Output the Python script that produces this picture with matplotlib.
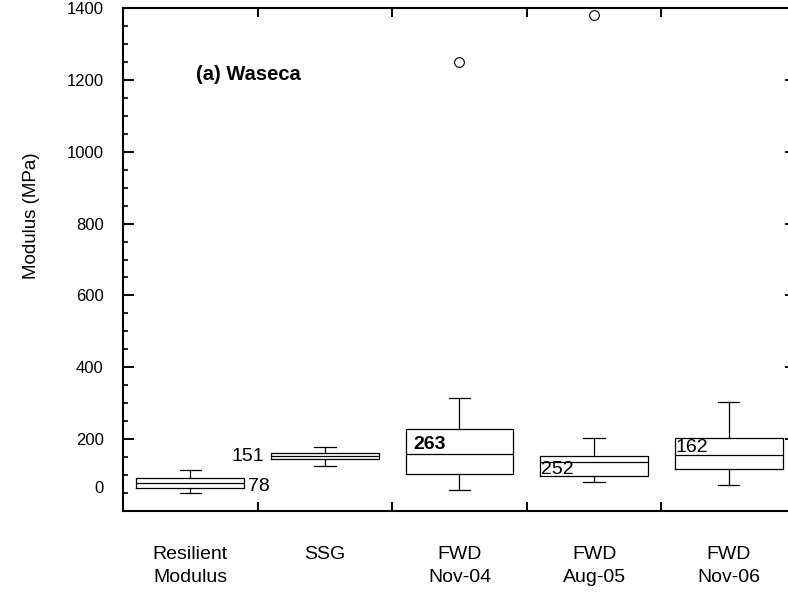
import matplotlib
matplotlib.use("Agg")
import matplotlib.pyplot as plt
from matplotlib.ticker import MultipleLocator, FixedLocator, FuncFormatter

# ---------------- DATA ----------------
categories = ["Resilient\nModulus", "SSG", "FWD\nNov-04", "FWD\nAug-05", "FWD\nNov-06"]
whislo = [50, 125, 58, 80, 71]
q1 = [63, 145, 104, 98, 116]
med = [79, 153, 158, 136, 156]
q3 = [91, 161, 228, 154, 202]
whishi = [113, 179, 315, 202, 304]
fliers = [[], [], [1250], [1381], []]
mean_labels = ["78", "151", "263", "252", "162"]

# ---------------- STYLE ----------------
plt.rcParams['font.family'] = ['Liberation Sans', 'DejaVu Sans']

fig = plt.figure(figsize=(7.88, 6.02), dpi=100)
ax = fig.add_axes([123 / 788, 91 / 602, (796 - 123) / 788, (511 - 8) / 602])

positions = list(range(1, len(categories) + 1))
stats = []
for i in range(len(categories)):
    stats.append(dict(whislo=whislo[i], q1=q1[i], med=med[i], q3=q3[i],
                      whishi=whishi[i], fliers=fliers[i]))

line = dict(color='black', linewidth=0.9)
ax.bxp(stats, positions=positions, widths=0.8, capwidths=0.16,
       showfliers=True,
       boxprops=line, medianprops=line, whiskerprops=line, capprops=line,
       flierprops=dict(marker='o', markerfacecolor='none', markeredgecolor='black',
                       markersize=7, markeredgewidth=0.8))

# value labels next to the boxes
ax.text(1.43, med[0] - 10, mean_labels[0], ha='left', va='center', fontsize=14)
ax.text(1.55, med[1], mean_labels[1], ha='right', va='center', fontsize=14)
ax.text(2.66, med[2] + 4, mean_labels[2], ha='left', va='bottom', fontsize=14,
        fontweight='bold')
ax.text(3.605, med[3] + 2, mean_labels[3], ha='left', va='top', fontsize=14)
ax.text(4.605, med[4] - 2, mean_labels[4], ha='left', va='bottom', fontsize=14)

ax.text(1.045, 1216, "(a) Waseca", ha='left', va='center', fontsize=14.5,
        fontweight='bold')

# ---------------- AXES ----------------
ax.set_xlim(0.5, 5.5)
ax.set_ylim(0, 1400)

ax.yaxis.set_major_locator(MultipleLocator(200))
ax.yaxis.set_minor_locator(MultipleLocator(50))
ax.yaxis.set_major_formatter(FuncFormatter(lambda v, p: "" if v == 0 else f"{v:.0f}"))
ax.tick_params(axis='y', which='major', direction='in', length=8, width=1.4,
               right=True, labelsize=12, pad=14)
ax.tick_params(axis='y', which='minor', direction='in', length=3.6, width=1.2,
               right=True)
# the "0" label sits a bit above the axis in the original
ax.annotate("0", xy=(0, 0), xycoords=ax.get_yaxis_transform(),
            xytext=(-14, 16), textcoords='offset points',
            ha='right', va='center', fontsize=12)

ax.xaxis.set_major_locator(FixedLocator([1.5, 2.5, 3.5, 4.5]))
ax.xaxis.set_major_formatter(plt.NullFormatter())
ax.xaxis.set_minor_locator(FixedLocator(positions))
ax.set_xticklabels(categories, minor=True)
ax.tick_params(axis='x', which='major', direction='in', length=6.5, width=1.4,
               top=True)
ax.tick_params(axis='x', which='minor', length=0, labelsize=14, pad=25)
for lab in ax.get_xticklabels(minor=True):
    lab.set_linespacing(1.45)

for s in ax.spines.values():
    s.set_linewidth(1.5)

fig.text(32 / 788, 1 - 216 / 602, "Modulus (MPa)", rotation=90,
         ha='center', va='center', fontsize=13.5)

fig.savefig("out.png", dpi=100)
